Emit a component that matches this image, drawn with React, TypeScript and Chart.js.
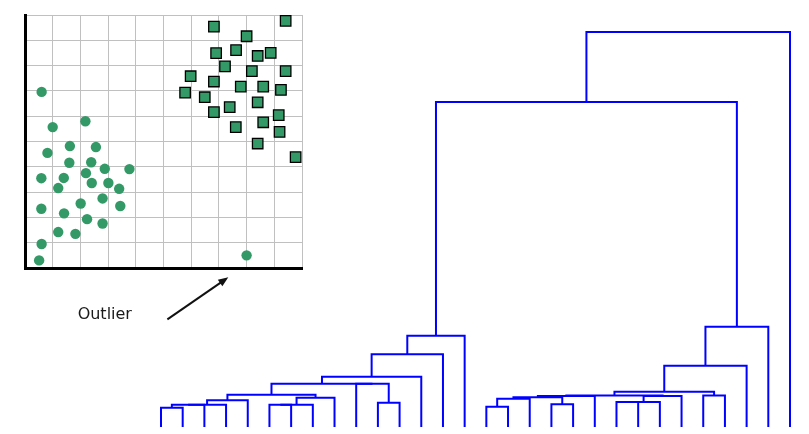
import { useEffect, useRef } from "react";
import { Chart, registerables } from "chart.js";

Chart.register(...registerables);

// ---- Scatter inset data (grid units 0..10) ----
const circleX = [0.6, 1.0, 2.18, 0.81, 1.62, 2.56, 1.6, 2.39, 2.88, 3.77, 0.59, 1.4, 2.2, 1.2, 2.41, 3.01, 3.4, 0.59, 2.01, 2.8, 3.44, 1.41, 2.24, 2.8, 1.2, 1.82, 0.6, 0.51];
const circleY = [6.96, 5.57, 5.8, 4.55, 4.82, 4.78, 4.16, 4.18, 3.92, 3.91, 3.55, 3.56, 3.75, 3.16, 3.36, 3.36, 3.13, 2.34, 2.55, 2.75, 2.45, 2.16, 1.93, 1.76, 1.42, 1.35, 0.95, 0.3];
const outlierX = [8.0];
const outlierY = [0.5];
const squareX = [9.41, 6.82, 8.0, 6.9, 7.62, 8.4, 8.87, 7.22, 8.19, 9.41, 5.98, 6.82, 7.79, 8.6, 9.24, 5.78, 6.49, 8.4, 7.39, 6.82, 9.16, 8.6, 7.61, 9.19, 8.4, 9.77];
const squareY = [9.77, 9.54, 9.16, 8.49, 8.61, 8.38, 8.5, 7.97, 7.78, 7.78, 7.58, 7.37, 7.17, 7.17, 7.04, 6.93, 6.75, 6.55, 6.36, 6.16, 6.04, 5.76, 5.57, 5.38, 4.92, 4.38];

const labelText = "Outlier";
const labelAt = [1.9, -2.0];
const arrowFrom = [5.14, -2.03];
const arrowTo = [7.34, -0.37];

// ---- Dendrogram data (scipy-like linkage: leaves 0..29, merged node k gets id 30+k) ----
const leafCount = 30;
const linkA = [0, 30, 31, 32, 5, 34, 35, 33, 10, 9, 37, 40, 41, 42, 15, 44, 18, 45, 21, 48, 47, 49, 50, 25, 52, 54, 55, 43, 57];
const linkB = [1, 2, 3, 4, 6, 7, 8, 36, 11, 38, 39, 12, 13, 14, 16, 17, 19, 46, 22, 23, 20, 24, 51, 26, 53, 27, 28, 56, 29];
const linkHeight = [19.3, 22.3, 22.3, 26.7, 22.3, 22.3, 29.3, 32.3, 24.3, 43.3, 43.3, 50.3, 72.7, 91.3, 20.3, 28.3, 22.7, 29.8, 25, 25, 31, 31, 31.5, 31.5, 35.3, 61.3, 100.3, 325, 395];

const GREEN = "#339966";
const BLUE = "#0000ff";

const annotationPlugin = {
  id: "outlierNote",
  afterDraw(chart: any) {
    const { ctx, scales } = chart;
    const px = (v: number) => scales.x.getPixelForValue(v);
    const py = (v: number) => scales.y.getPixelForValue(v);
    ctx.save();
    ctx.fillStyle = "#1a1a1a";
    ctx.font = '16px "DejaVu Sans"';
    ctx.textBaseline = "alphabetic";
    ctx.textAlign = "left";
    ctx.fillText(labelText, px(labelAt[0]), py(labelAt[1]));
    const x1 = px(arrowFrom[0]), y1 = py(arrowFrom[1]);
    const x2 = px(arrowTo[0]), y2 = py(arrowTo[1]);
    const ang = Math.atan2(y2 - y1, x2 - x1);
    const head = 10, half = 4;
    ctx.strokeStyle = "#111";
    ctx.lineWidth = 2;
    ctx.beginPath();
    ctx.moveTo(x1, y1);
    ctx.lineTo(x2 - Math.cos(ang) * head * 0.8, y2 - Math.sin(ang) * head * 0.8);
    ctx.stroke();
    ctx.fillStyle = "#111";
    ctx.beginPath();
    ctx.moveTo(x2, y2);
    ctx.lineTo(x2 - Math.cos(ang) * head - Math.sin(ang) * half, y2 - Math.sin(ang) * head + Math.cos(ang) * half);
    ctx.lineTo(x2 - Math.cos(ang) * head + Math.sin(ang) * half, y2 - Math.sin(ang) * head - Math.cos(ang) * half);
    ctx.closePath();
    ctx.fill();
    ctx.restore();
  },
};

function ScatterInset() {
  const ref = useRef<HTMLCanvasElement>(null);
  useEffect(() => {
    if (!ref.current) return;
    const gridColor = (c: any) => (c.tick && c.tick.value === 0 ? "rgba(0,0,0,0)" : "#c0c0c0");
    const axis = {
      type: "linear" as const,
      min: 0,
      max: 10,
      ticks: { display: false, stepSize: 1, autoSkip: false },
      grid: { color: gridColor, lineWidth: 1, drawTicks: false },
      border: { color: "#000", width: 3 },
    };
    const chart = new Chart(ref.current, {
      type: "scatter",
      data: {
        datasets: [
          {
            data: circleX.map((x, i) => ({ x, y: circleY[i] })),
            backgroundColor: GREEN,
            borderWidth: 0,
            pointRadius: 5.2,
            pointStyle: "circle",
            clip: false,
          },
          {
            data: outlierX.map((x, i) => ({ x, y: outlierY[i] })),
            backgroundColor: GREEN,
            borderWidth: 0,
            pointRadius: 5.2,
            pointStyle: "circle",
            clip: false,
          },
          {
            data: squareX.map((x, i) => ({ x, y: squareY[i] })),
            backgroundColor: GREEN,
            borderColor: "#000",
            borderWidth: 1.3,
            pointRadius: 7.4,
            pointStyle: "rect",
            clip: false,
          },
        ],
      },
      options: {
        animation: false,
        responsive: false,
        devicePixelRatio: 1,
        layout: { padding: { left: 25, top: 15, right: 28, bottom: 72 } },
        plugins: { legend: { display: false }, tooltip: { enabled: false } },
        scales: { x: axis, y: axis },
      } as any,
      plugins: [annotationPlugin],
    });
    return () => chart.destroy();
  }, []);
  return <canvas ref={ref} width={330} height={340} style={{ position: "absolute", left: 0, top: 0 }} />;
}

function Dendrogram() {
  const ref = useRef<HTMLCanvasElement>(null);
  useEffect(() => {
    if (!ref.current) return;
    const nodeX: number[] = [];
    const nodeH: number[] = [];
    for (let i = 0; i < leafCount; i++) {
      nodeX[i] = i;
      nodeH[i] = 0;
    }
    const datasets: any[] = [];
    linkHeight.forEach((h, k) => {
      const a = linkA[k];
      const b = linkB[k];
      const xa = nodeX[a];
      const xb = nodeX[b];
      datasets.push({
        data: [
          { x: xa, y: nodeH[a] },
          { x: xa, y: h },
          { x: xb, y: h },
          { x: xb, y: nodeH[b] },
        ],
        showLine: true,
        borderColor: BLUE,
        borderWidth: 2,
        pointRadius: 0,
        fill: false,
        tension: 0,
        borderJoinStyle: "miter",
        borderCapStyle: "butt",
        clip: false,
      });
      nodeX[leafCount + k] = (xa + xb) / 2;
      nodeH[leafCount + k] = h;
    });
    const chart = new Chart(ref.current, {
      type: "scatter",
      data: { datasets },
      options: {
        animation: false,
        responsive: false,
        devicePixelRatio: 1,
        layout: { padding: { left: 11, top: 27, right: 19, bottom: 7 } },
        plugins: { legend: { display: false }, tooltip: { enabled: false } },
        scales: {
          x: { type: "linear", min: 0, max: leafCount - 1, display: false },
          y: { type: "linear", min: 0, max: 400, display: false },
        },
      } as any,
    });
    return () => chart.destroy();
  }, []);
  return <canvas ref={ref} width={659} height={434} style={{ position: "absolute", left: 150, top: 0 }} />;
}

export default function App() {
  return (
    <div style={{ position: "absolute", left: 0, top: 0, width: 809, height: 434, background: "#fff", overflow: "hidden" }}>
      <Dendrogram />
      <ScatterInset />
    </div>
  );
}
